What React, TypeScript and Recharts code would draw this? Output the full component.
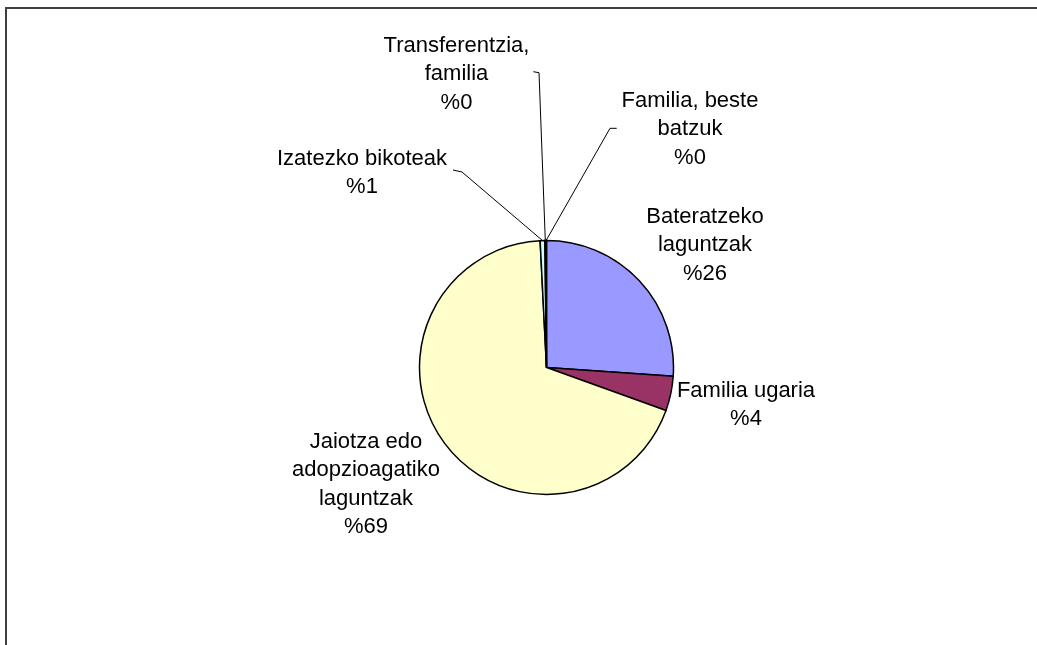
import React from "react";
import { PieChart, Pie, Cell } from "recharts";

// ---- data ----
const categories = [
  "Bateratzeko\nlaguntzak",
  "Familia ugaria",
  "Jaiotza edo\nadopzioagatiko\nlaguntzak",
  "Izatezko bikoteak",
  "Transferentzia,\nfamilia",
  "Familia, beste\nbatzuk",
];
const shares = [26.1, 4.4, 68.7, 0.6, 0.1, 0.1];
const sliceColors = ["#9999FF", "#993366", "#FFFFCC", "#CCFFFF", "#660066", "#FF8080"];

// label placement relative to pie centre (first baseline), plus optional leader line points
const labelLayout = [
  { dx: 158.5, dy: -144.5, leader: null },
  { dx: 199.5, dy: 29.5, leader: null },
  { dx: -180.5, dy: 80.5, leader: null },
  { dx: -184.5, dy: -202.5, leader: [[-93.5, -197.5], [-84.5, -195.5]] },
  { dx: -90, dy: -315.5, leader: [[-13.2, -295.8], [-7.5, -294.8]] },
  { dx: 143.5, dy: -260.5, leader: [[70.2, -239.2], [63.5, -239.2]] },
];

const rows = categories.map((name, i) => ({ name, value: shares[i] }));

const CX = 538.5;
const CY = 359.5;
const R = 127;
const LINE_H = 28.4;
const RAD = Math.PI / 180;

const renderLabel = (props: any) => {
  const { cx, cy, midAngle, outerRadius, index, percent } = props;
  const lay = labelLayout[index];
  const lines = categories[index].split("\n");
  lines.push("%" + Math.round(percent * 100));
  const tx = cx + lay.dx;
  const ty = cy + lay.dy;
  let leader = null;
  if (lay.leader) {
    const ex = cx + outerRadius * Math.cos(-midAngle * RAD);
    const ey = cy + outerRadius * Math.sin(-midAngle * RAD);
    const pts = lay.leader.map((p) => `${cx + p[0]},${cy + p[1]}`).join(" ") + ` ${ex},${ey}`;
    leader = <polyline points={pts} fill="none" stroke="#000" strokeWidth={1} />;
  }
  return (
    <g key={`lbl-${index}`}>
      {leader}
      <text
        x={tx}
        y={ty}
        textAnchor="middle"
        fontFamily="'Liberation Sans', Arial, sans-serif"
        fontSize={22}
        fill="#000"
      >
        {lines.map((ln, j) => (
          <tspan key={j} x={tx} y={ty + j * LINE_H}>
            {ln}
          </tspan>
        ))}
      </text>
    </g>
  );
};

export default function App() {
  return (
    <div style={{ position: "relative", width: 1021, height: 620 }}>
      <div
        style={{
          position: "fixed",
          left: 5,
          top: 7,
          width: 1060,
          height: 660,
          borderLeft: "2px solid #404040",
          borderTop: "2px solid #404040",
          pointerEvents: "none",
        }}
      />
      <PieChart width={1021} height={620} margin={{ top: 0, right: 0, bottom: 0, left: 0 }}>
        <Pie
          data={rows}
          dataKey="value"
          nameKey="name"
          cx={CX}
          cy={CY}
          outerRadius={R}
          startAngle={90}
          endAngle={-270}
          stroke="#000"
          strokeWidth={1.5}
          label={renderLabel}
          labelLine={false}
          isAnimationActive={false}
        >
          {rows.map((r, i) => (
            <Cell key={r.name} fill={sliceColors[i]} stroke="#000" strokeWidth={1.5} />
          ))}
        </Pie>
      </PieChart>
    </div>
  );
}
